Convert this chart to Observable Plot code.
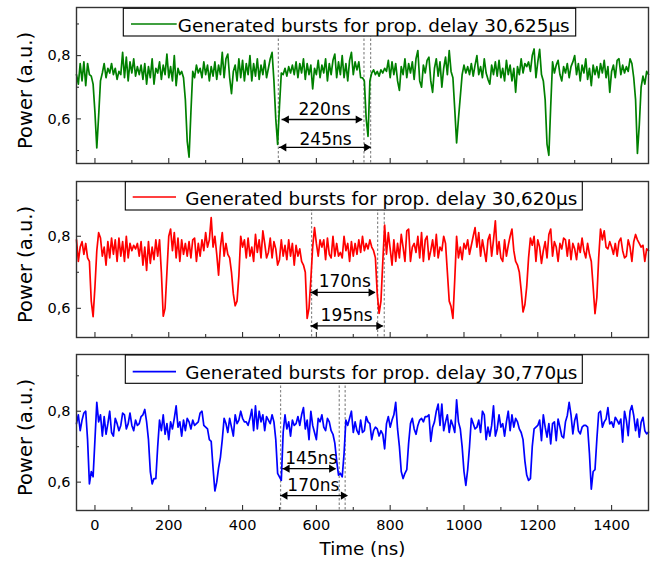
<!DOCTYPE html>
<html><head><meta charset="utf-8">
<script src="https://cdn.jsdelivr.net/npm/d3@7"></script>
<script src="https://cdn.jsdelivr.net/npm/@observablehq/plot@0.6"></script>
<style>
body{margin:0;background:#fff;}
#chart{width:659px;}
#chart svg{display:block;}
</style></head><body><div id="chart"></div>
<script>
// sampling grid of the traces (ns)
const t0 = -50, dt = 5;

// green trace: prop. delay 30,625 µs (rows of 10 samples = 50 ns)
const green = [
0.74,0.71,0.775,0.72,0.78,0.705,0.775,0.74,0.735,0.71,
0.62,0.508,0.61,0.72,0.745,0.775,0.73,0.76,0.745,0.775,
0.74,0.76,0.725,0.75,0.74,0.81,0.73,0.795,0.72,0.78,
0.745,0.79,0.735,0.765,0.74,0.77,0.725,0.775,0.71,0.765,
0.73,0.79,0.71,0.76,0.745,0.78,0.725,0.77,0.74,0.805,
0.73,0.765,0.72,0.8,0.705,0.76,0.74,0.75,0.73,0.66,
0.53,0.479,0.62,0.75,0.73,0.77,0.745,0.76,0.73,0.78,
0.74,0.77,0.72,0.765,0.735,0.78,0.725,0.77,0.74,0.81,
0.73,0.79,0.805,0.73,0.68,0.75,0.77,0.72,0.79,0.73,
0.785,0.72,0.775,0.74,0.80,0.72,0.775,0.735,0.79,0.725,
0.77,0.74,0.785,0.73,0.76,0.79,0.81,0.72,0.60,0.519,
0.64,0.745,0.74,0.76,0.735,0.765,0.745,0.77,0.74,0.78,
0.73,0.775,0.745,0.79,0.725,0.775,0.74,0.77,0.695,0.76,
0.74,0.785,0.73,0.77,0.745,0.79,0.72,0.775,0.74,0.785,
0.805,0.73,0.78,0.74,0.80,0.73,0.775,0.72,0.785,0.81,
0.74,0.78,0.755,0.78,0.73,0.73,0.72,0.6,0.545,0.72,
0.745,0.755,0.74,0.75,0.735,0.755,0.745,0.76,0.75,0.785,
0.73,0.78,0.74,0.775,0.72,0.69,0.765,0.74,0.79,0.73,
0.775,0.745,0.78,0.725,0.79,0.816,0.72,0.70,0.77,0.745,
0.785,0.795,0.72,0.684,0.76,0.79,0.735,0.78,0.70,0.76,
0.795,0.74,0.816,0.75,0.73,0.63,0.524,0.60,0.67,0.74,
0.77,0.745,0.765,0.74,0.775,0.735,0.77,0.80,0.74,0.765,
0.73,0.79,0.745,0.725,0.71,0.77,0.74,0.78,0.735,0.785,
0.73,0.76,0.72,0.785,0.74,0.77,0.72,0.76,0.684,0.765,
0.74,0.79,0.745,0.775,0.765,0.78,0.75,0.80,0.821,0.73,
0.78,0.82,0.74,0.72,0.66,0.52,0.485,0.64,0.78,0.745,
0.77,0.785,0.74,0.72,0.765,0.745,0.775,0.73,0.765,0.78,
0.80,0.74,0.775,0.72,0.77,0.745,0.79,0.725,0.76,0.705,
0.77,0.74,0.765,0.73,0.775,0.745,0.785,0.73,0.765,0.684,
0.75,0.77,0.73,0.785,0.79,0.74,0.77,0.745,0.765,0.75,
0.79,0.775,0.73,0.66,0.491,0.58,0.70,0.735,0.71,0.75,
0.74];

// red trace: prop. delay 30,620 µs
const red = [
0.79,0.73,0.77,0.785,0.75,0.78,0.74,0.73,0.62,0.577,
0.66,0.76,0.81,0.795,0.745,0.77,0.72,0.785,0.74,0.795,
0.75,0.79,0.73,0.795,0.745,0.785,0.73,0.80,0.74,0.78,
0.76,0.775,0.765,0.78,0.745,0.785,0.72,0.77,0.705,0.785,
0.725,0.77,0.735,0.79,0.745,0.79,0.70,0.578,0.60,0.70,
0.80,0.82,0.76,0.81,0.74,0.795,0.73,0.79,0.75,0.78,
0.745,0.785,0.74,0.79,0.795,0.73,0.78,0.745,0.79,0.76,
0.81,0.77,0.79,0.852,0.77,0.80,0.75,0.692,0.77,0.81,
0.745,0.78,0.75,0.74,0.70,0.64,0.607,0.62,0.69,0.80,
0.77,0.79,0.74,0.795,0.745,0.77,0.73,0.805,0.755,0.79,
0.74,0.815,0.78,0.74,0.755,0.795,0.74,0.785,0.765,0.72,
0.735,0.79,0.745,0.775,0.735,0.79,0.745,0.78,0.72,0.775,
0.745,0.765,0.73,0.72,0.70,0.572,0.60,0.68,0.77,0.824,
0.78,0.745,0.79,0.77,0.79,0.735,0.795,0.75,0.74,0.80,
0.745,0.78,0.745,0.755,0.74,0.80,0.76,0.78,0.73,0.785,
0.745,0.78,0.75,0.79,0.755,0.80,0.76,0.78,0.765,0.79,
0.77,0.76,0.74,0.64,0.586,0.62,0.73,0.831,0.75,0.81,
0.765,0.72,0.79,0.73,0.78,0.74,0.805,0.77,0.73,0.815,
0.82,0.73,0.77,0.78,0.755,0.80,0.74,0.81,0.73,0.79,
0.80,0.735,0.76,0.79,0.745,0.805,0.74,0.77,0.76,0.80,
0.78,0.70,0.62,0.605,0.572,0.68,0.80,0.74,0.77,0.735,
0.78,0.765,0.79,0.75,0.775,0.80,0.824,0.77,0.81,0.745,
0.79,0.76,0.73,0.79,0.805,0.745,0.79,0.843,0.75,0.785,
0.74,0.73,0.79,0.745,0.775,0.80,0.82,0.76,0.73,0.72,
0.70,0.65,0.59,0.61,0.66,0.74,0.795,0.775,0.80,0.73,
0.79,0.77,0.725,0.76,0.785,0.74,0.805,0.82,0.745,0.785,
0.77,0.73,0.78,0.765,0.795,0.79,0.745,0.79,0.735,0.78,
0.765,0.735,0.78,0.755,0.795,0.76,0.74,0.78,0.75,0.73,
0.66,0.585,0.63,0.74,0.82,0.79,0.815,0.77,0.765,0.785,
0.77,0.75,0.78,0.745,0.785,0.795,0.76,0.74,0.745,0.79,
0.77,0.73,0.785,0.805,0.79,0.78,0.77,0.775,0.73,0.765,
0.76];

// blue trace: prop. delay 30,770 µs
const blue = [
0.765,0.79,0.745,0.775,0.795,0.80,0.72,0.595,0.63,0.615,
0.72,0.825,0.77,0.79,0.73,0.785,0.735,0.765,0.80,0.74,
0.73,0.78,0.765,0.745,0.76,0.795,0.79,0.75,0.765,0.795,
0.76,0.745,0.775,0.76,0.765,0.785,0.79,0.805,0.77,0.72,
0.63,0.595,0.61,0.61,0.70,0.775,0.745,0.79,0.735,0.765,
0.72,0.77,0.75,0.78,0.815,0.755,0.77,0.73,0.775,0.745,
0.78,0.77,0.75,0.775,0.76,0.765,0.77,0.795,0.80,0.76,
0.755,0.75,0.72,0.715,0.64,0.575,0.60,0.64,0.67,0.72,
0.78,0.765,0.74,0.78,0.755,0.73,0.79,0.765,0.775,0.80,
0.78,0.77,0.77,0.76,0.78,0.805,0.745,0.815,0.75,0.80,
0.77,0.79,0.745,0.785,0.775,0.765,0.79,0.77,0.72,0.625,
0.615,0.605,0.74,0.79,0.75,0.77,0.73,0.775,0.76,0.765,
0.785,0.76,0.79,0.81,0.75,0.775,0.72,0.80,0.76,0.74,
0.72,0.78,0.77,0.79,0.755,0.745,0.78,0.77,0.745,0.735,
0.71,0.66,0.62,0.625,0.615,0.68,0.775,0.76,0.78,0.80,
0.74,0.77,0.745,0.735,0.775,0.74,0.745,0.785,0.77,0.765,
0.72,0.745,0.755,0.75,0.73,0.745,0.735,0.694,0.765,0.785,
0.755,0.775,0.79,0.825,0.75,0.70,0.63,0.61,0.625,0.635,
0.71,0.765,0.78,0.75,0.735,0.76,0.775,0.78,0.77,0.785,
0.785,0.79,0.715,0.755,0.77,0.80,0.82,0.76,0.82,0.745,
0.77,0.79,0.74,0.775,0.76,0.74,0.832,0.77,0.75,0.70,
0.63,0.591,0.635,0.70,0.78,0.765,0.75,0.755,0.775,0.74,
0.80,0.79,0.72,0.755,0.73,0.76,0.815,0.73,0.75,0.79,
0.755,0.765,0.73,0.77,0.80,0.745,0.79,0.755,0.78,0.77,
0.75,0.74,0.72,0.66,0.62,0.605,0.61,0.70,0.75,0.755,
0.76,0.775,0.717,0.79,0.755,0.727,0.765,0.708,0.765,0.77,
0.717,0.778,0.755,0.73,0.725,0.77,0.788,0.825,0.79,0.736,
0.774,0.792,0.745,0.736,0.755,0.76,0.76,0.755,0.68,0.58,
0.63,0.635,0.72,0.795,0.80,0.755,0.77,0.778,0.81,0.764,
0.77,0.755,0.783,0.774,0.764,0.778,0.713,0.80,0.774,0.731,
0.80,0.816,0.788,0.745,0.778,0.727,0.769,0.783,0.745,0.736,
0.741];

const traces = [green, red, blue];
const traceColors = ["#008000", "#ff0000", "#0000ff"];
const legendLabels = [
  "Generated bursts for prop. delay 30,625µs",
  "Generated bursts for prop. delay 30,620µs",
  "Generated bursts for prop. delay 30,770µs"
];
const yDomains = [[0.459, 0.952], [0.519, 0.952], [0.52, 0.96]];
const xDomain = [-50, 1500];
const xMajor = [0, 200, 400, 600, 800, 1000, 1200, 1400];
const xMinor = [100, 300, 500, 700, 900, 1100, 1300];
const yMajor = [0.6, 0.8];
const yMinor = [0.5, 0.7, 0.9];
const yLabel = "Power (a.u.)";
const xLabel = "Time (ns)";

// dashed guide lines (ns)
const guides = [[497, 729, 747], [587, 766, 784], [503, 662, 678]];
// measured intervals
const spans = [
  [{x1: 507, x2: 725, y: 0.598, label: "220ns", lx: 622, ly: 0.629},
   {x1: 500, x2: 748, y: 0.510, label: "245ns", lx: 625, ly: 0.534}],
  [{x1: 585, x2: 760, y: 0.644, label: "170ns", lx: 677, ly: 0.674},
   {x1: 585, x2: 781, y: 0.551, label: "195ns", lx: 682, ly: 0.579}],
  [{x1: 509, x2: 653, y: 0.638, label: "145ns", lx: 586, ly: 0.666},
   {x1: 503, x2: 685, y: 0.562, label: "170ns", lx: 592, ly: 0.591}]
];

const layout = [
  {height: 172, top: 7, bottom: 9, box: {x: 123.3, y: 8.3, w: 452.4, h: 27.7}, line: [131, 176.7, 24], text: [177.7, 31.7]},
  {height: 173, top: 9, bottom: 8, box: {x: 125.3, y: 9.7, w: 457, h: 28.3}, line: [132.7, 176, 25], text: [185.3, 33]},
  {height: 223, top: 9, bottom: 58, box: {x: 125.3, y: 10, w: 457, h: 28.3}, line: [132.7, 176, 26.7], text: [185.3, 34.3]}
];
const W = 659, ML = 76, MR = 11;

function legendMark(i) {
  const L = layout[i];
  return () => {
    const g = d3.create("svg:g");
    g.append("rect").attr("x", L.box.x).attr("y", L.box.y).attr("width", L.box.w).attr("height", L.box.h)
      .attr("fill", "white").attr("stroke", "black").attr("stroke-width", 1.1);
    g.append("line").attr("x1", L.line[0]).attr("x2", L.line[1]).attr("y1", L.line[2]).attr("y2", L.line[2])
      .attr("stroke", traceColors[i]).attr("stroke-width", 1.7);
    g.append("text").attr("x", L.text[0]).attr("y", L.text[1]).attr("fill", "black")
      .attr("text-anchor", "start")
      .attr("font-size", "18.3px").attr("textLength", 392).attr("lengthAdjust", "spacingAndGlyphs")
      .text(legendLabels[i]);
    return g.node();
  };
}

function panel(i) {
  const L = layout[i];
  const fh = L.height - L.top - L.bottom;
  const fw = W - ML - MR;
  const data = traces[i].map((v, k) => ({t: t0 + k * dt, v}));
  const [y0, y1] = yDomains[i];
  const minorY = yMinor.filter(d => d > y0 && d < y1);
  const last = i === 2;
  const marks = [
    Plot.ruleX(guides[i], {stroke: "#8a8a8a", strokeWidth: 1.2, strokeDasharray: "2.5,2"}),
    Plot.line(data, {x: "t", y: "v", stroke: traceColors[i], strokeWidth: 1.7}),
    Plot.ruleY(spans[i], {x1: "x1", x2: "x2", y: "y", stroke: "black", strokeWidth: 1.3}),
    Plot.dot(spans[i], {x: "x1", y: "y", symbol: "triangle", r: 3, rotate: -90, fill: "black", dx: 4.5}),
    Plot.dot(spans[i], {x: "x2", y: "y", symbol: "triangle", r: 3, rotate: 90, fill: "black", dx: -4.5}),
    Plot.text(spans[i], {x: "lx", y: "ly", text: "label", fontSize: 17, fill: "black"}),
    Plot.frame({stroke: "#333", strokeWidth: 1.4}),
    Plot.ruleX(xMajor, {stroke: "#333", strokeWidth: 1.1, insetTop: fh - 5}),
    Plot.ruleX(xMinor, {stroke: "#333", strokeWidth: 1.1, insetTop: fh - 3}),
    Plot.ruleY(yMajor, {stroke: "#333", strokeWidth: 1.1, insetRight: fw - 5}),
    Plot.ruleY(minorY, {stroke: "#333", strokeWidth: 1.1, insetRight: fw - 3}),
    Plot.axisY({ticks: yMajor, tickSize: 0, tickPadding: 6, tickFormat: d => d.toFixed(1).replace(".", ","), fontSize: 14.5}),
    Plot.text([yLabel], {frameAnchor: "left", text: d => d, rotate: -90, dx: -51, dy: 5, textAnchor: "middle", lineAnchor: "middle", fontSize: 19.5, fill: "black"}),
    legendMark(i)
  ];
  if (last) {
    marks.push(Plot.axisX({ticks: xMajor, tickSize: 0, tickPadding: 9, tickFormat: d => String(d), fontSize: 14.5}));
    marks.push(Plot.text([xLabel], {frameAnchor: "bottom", text: d => d, dy: 39, textAnchor: "middle", lineAnchor: "middle", fontSize: 18.3, fill: "black"}));
  }
  return Plot.plot({
    width: W, height: L.height,
    marginLeft: ML, marginRight: MR, marginTop: L.top, marginBottom: L.bottom,
    x: {domain: xDomain, axis: null},
    y: {domain: yDomains[i], axis: null},
    style: {fontFamily: "'DejaVu Sans', sans-serif", fontSize: "14.5px", color: "black", background: "white", overflow: "visible"},
    marks
  });
}

const chart = document.getElementById("chart");
[0, 1, 2].forEach(i => chart.appendChild(panel(i)));
</script>
</body></html>
